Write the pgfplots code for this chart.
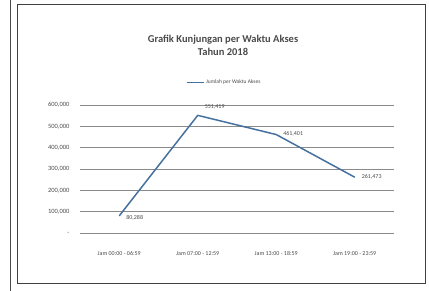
\documentclass[border=0pt]{standalone}
\usepackage{pgfplots}
\pgfplotsset{compat=1.18}
\usepackage{fontspec}
\setmainfont{Carlito}
\definecolor{linec}{HTML}{46719E}
\definecolor{gridc}{HTML}{8A8A8A}
\definecolor{txt}{HTML}{4A4A4A}
\begin{document}
\begin{tikzpicture}[x=1pt,y=1pt]
\path[use as bounding box] (0,0) rectangle (429,291);
\draw[black!70, line width=0.8pt] (10,0) -- (10,291);
\draw[black!75, line width=1pt] (17,7) rectangle (425,286);
\node[txt, font=\bfseries\fontsize{10.5}{13}\selectfont, align=center] at (223,246) {Grafik Kunjungan per Waktu Akses\\Tahun 2018};
\begin{axis}[
  at={(80pt,58pt)}, anchor=origin,
  scale only axis, width=314pt, height=128pt,
  xmin=0, xmax=4, ymin=0, ymax=600000,
  xtick={0.5,1.5,2.5,3.5},
  xticklabels={Jam 00:00 - 06:59, Jam 07:00 - 12:59, Jam 13:00 - 18:59, Jam 19:00 - 23:59},
  ytick={0,100000,200000,300000,400000,500000,600000},
  yticklabels={-, {100,000}, {200,000}, {300,000}, {400,000}, {500,000}, {600,000}},
  scaled y ticks=false,
  ymajorgrids, grid style={gridc, line width=0.7pt},
  axis line style={draw=none},
  major tick length=0pt,
  tick label style={txt, font=\fontsize{6.5}{7}\selectfont},
  xticklabel style={yshift=-15pt, font=\fontsize{6}{7}\selectfont},
  yticklabel style={xshift=-7pt},
  legend style={at={(0.46,1.18)}, anchor=center, draw=none, fill=none,
    font=\fontsize{5.5}{6}\selectfont, text=txt, legend columns=1},
  legend image post style={line width=0.7pt},
  clip=false,
]
\addplot[linec, line width=1.5pt, mark=none,
  visualization depends on={value \thisrow{dy} \as \dy},
  nodes near coords, point meta=explicit symbolic,
  nodes near coords style={font=\fontsize{6}{7}\selectfont, text=txt, anchor=west, xshift=3pt, yshift=\dy pt}]
  table[meta=lab] {
x y lab dy
0.5 80288 {80,288} -2
1.5 551419 {551,419} 8
2.5 461401 {461,401} 1
3.5 261473 {261,473} 0
};
\addlegendentry{Jumlah per Waktu Akses}
\end{axis}
\end{tikzpicture}
\end{document}
